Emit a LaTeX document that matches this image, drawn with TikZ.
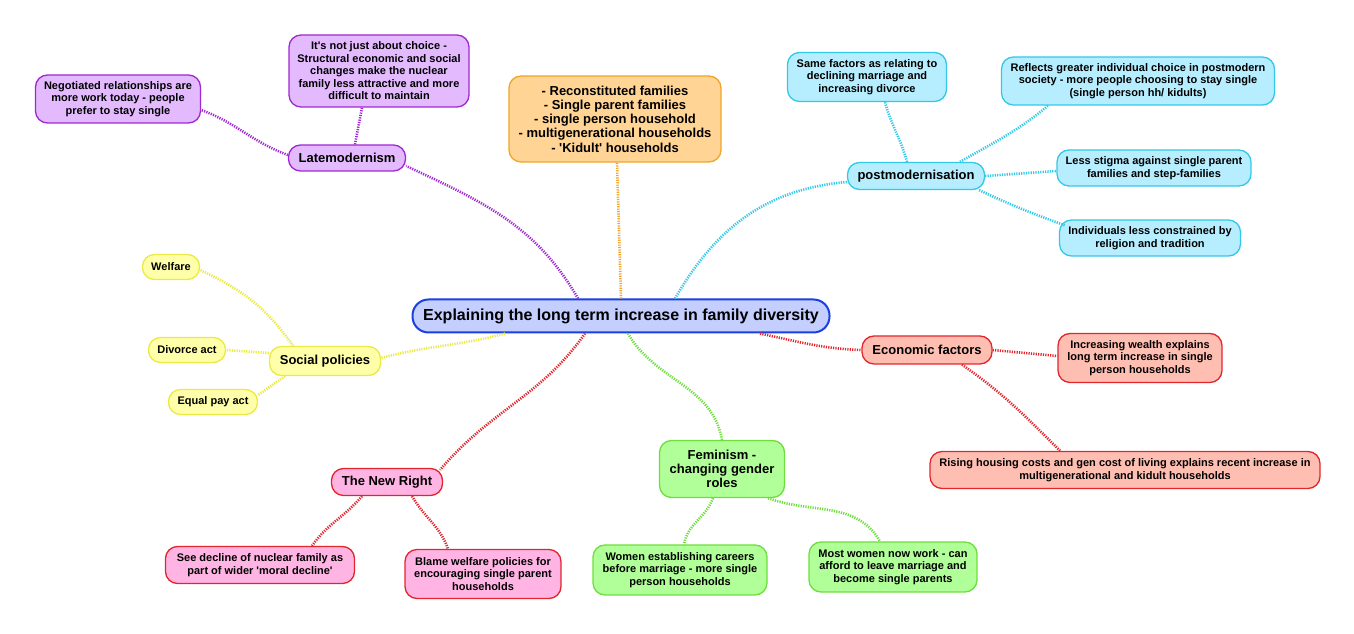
\documentclass[tikz,border=0pt]{standalone}
\usepackage{fontspec}
\setmainfont{Liberation Sans}
\definecolor{centrefill}{RGB}{196,206,255}
\definecolor{centreline}{RGB}{26,64,224}
\definecolor{violetfill}{RGB}{228,186,255}
\definecolor{violetline}{RGB}{160,40,210}
\definecolor{orangefill}{RGB}{255,212,148}
\definecolor{orangeline}{RGB}{240,165,40}
\definecolor{cyanfill}{RGB}{182,238,255}
\definecolor{cyanline}{RGB}{50,200,232}
\definecolor{redfill}{RGB}{255,190,178}
\definecolor{redline}{RGB}{226,38,44}
\definecolor{pinkfill}{RGB}{255,180,228}
\definecolor{greenfill}{RGB}{176,255,152}
\definecolor{greenline}{RGB}{110,222,60}
\definecolor{yellowfill}{RGB}{255,255,170}
\definecolor{yellowline}{RGB}{234,234,70}

\begin{document}
\begin{tikzpicture}[x=1pt, y=1pt, thick,
	box/.style={draw, rounded corners=12pt, align=center, inner sep=0pt, line width=1.3pt, font=\bfseries\fontsize{11}{12.5}\selectfont},
	main node/.style={box, rounded corners=16pt, line width=2pt, fill=centrefill, draw=centreline, font=\bfseries\fontsize{16}{18}\selectfont},
	branch node/.style={box, font=\bfseries\fontsize{13}{14.3}\selectfont},
	violet box/.style={fill=violetfill, draw=violetline},
	orange box/.style={fill=orangefill, draw=orangeline},
	cyan box/.style={fill=cyanfill, draw=cyanline},
	red box/.style={fill=redfill, draw=redline},
	pink box/.style={fill=pinkfill, draw=redline},
	green box/.style={fill=greenfill, draw=greenline},
	yellow box/.style={fill=yellowfill, draw=yellowline},
	link/.style={line width=2.6pt, dash pattern=on 1.2pt off 1.2pt},
	violet link/.style={link, draw=violetline},
	orange link/.style={link, draw=orangeline},
	cyan link/.style={link, draw=cyanline},
	red link/.style={link, draw=redline},
	green link/.style={link, draw=greenline},
	yellow link/.style={link, draw=yellowline}]
	\useasboundingbox (0,0) rectangle (1354,634);

	% centre
	\node[main node, minimum width=417pt, minimum height=33pt] (C) at (621,318) {Explaining the long term increase in family diversity};

	% late modernism
	\node[branch node, violet box, minimum width=117pt, minimum height=26pt] (LM) at (347,476) {Latemodernism};
	\node[box, violet box, minimum width=165pt, minimum height=48pt] (NEG) at (118,535) {Negotiated relationships are\\more work today - people\\prefer to stay single};
	\node[box, violet box, minimum width=180pt, minimum height=72pt] (CHO) at (379,563) {It\textquotesingle s not just about choice -\\Structural economic and social\\changes make the nuclear\\family less attractive and more\\difficult to maintain};

	% types
	\node[branch node, orange box, minimum width=212pt, minimum height=86pt] (TYP) at (615,515) {- Reconstituted families\\- Single parent families\\- single person household\\- multigenerational households\\- \textquotesingle Kidult\textquotesingle{} households};

	% postmodernisation
	\node[branch node, cyan box, minimum width=137pt, minimum height=27pt] (PM) at (916,458) {postmodernisation};
	\node[box, cyan box, minimum width=159pt, minimum height=49pt] (SAME) at (867,557) {Same factors as relating to\\declining marriage and\\increasing divorce};
	\node[box, cyan box, minimum width=273pt, minimum height=48pt] (REF) at (1138,553) {Reflects greater individual choice in postmodern\\society - more people choosing to stay single\\(single person hh/ kidults)};
	\node[box, cyan box, minimum width=194pt, minimum height=36pt] (STIG) at (1154,466) {Less stigma against single parent\\families and step-families};
	\node[box, cyan box, minimum width=181pt, minimum height=36pt] (IND) at (1150,396) {Individuals less constrained by\\religion and tradition};

	% economic factors
	\node[branch node, red box, minimum width=130pt, minimum height=28pt] (ECO) at (927,284) {Economic factors};
	\node[box, red box, minimum width=164pt, minimum height=49pt] (WEA) at (1140,276) {Increasing wealth explains\\long term increase in single\\person households};
	\node[box, red box, minimum width=390pt, minimum height=37pt] (RIS) at (1125,164) {Rising housing costs and gen cost of living explains recent increase in\\multigenerational and kidult households};

	% feminism
	\node[branch node, green box, minimum width=125pt, minimum height=57pt] (FEM) at (722,165) {Feminism -\\changing gender\\roles};
	\node[box, green box, minimum width=174pt, minimum height=50pt] (WOM) at (680,64) {Women establishing careers\\before marriage - more single\\person households};
	\node[box, green box, minimum width=168pt, minimum height=50pt] (WORK) at (893,67) {Most women now work - can\\afford to leave marriage and\\become single parents};

	% new right
	\node[branch node, pink box, minimum width=111pt, minimum height=27pt] (NR) at (387,152) {The New Right};
	\node[box, pink box, minimum width=189pt, minimum height=37pt] (SEE) at (260,69) {See decline of nuclear family as\\part of wider \textquotesingle moral decline\textquotesingle};
	\node[box, pink box, minimum width=156pt, minimum height=49pt] (BLA) at (483,60) {Blame welfare policies for\\encouraging single parent\\households};

	% social policies
	\node[branch node, yellow box, minimum width=111pt, minimum height=29pt] (SP) at (325,273) {Social policies};
	\node[box, yellow box, minimum width=57pt, minimum height=25pt] (WEL) at (171,367) {Welfare};
	\node[box, yellow box, minimum width=77pt, minimum height=25pt] (DIV) at (187,284) {Divorce act};
	\node[box, yellow box, minimum width=89pt, minimum height=25pt] (EQ) at (213,232) {Equal pay act};

	\path
		([xshift=-43pt]C.north) edge[violet link, out=120, in=-25] ([yshift=-8pt]LM.east)
		([yshift=3pt]LM.west) edge[violet link, out=160, in=-20] ([yshift=-11pt]NEG.east)
		([xshift=8pt]LM.north) edge[violet link] ([xshift=-17pt]CHO.south)
		(C.north) edge[orange link] ([xshift=2pt]TYP.south)
		([xshift=54pt]C.north) edge[cyan link, out=60, in=185] ([yshift=-6pt]PM.west)
		([xshift=-9pt]PM.north) edge[cyan link, out=105, in=-75] ([xshift=18pt]SAME.south)
		([xshift=44pt]PM.north) edge[cyan link, out=30, in=-140] ([xshift=-90pt]REF.south)
		(PM.east) edge[cyan link] ([yshift=-3pt]STIG.west)
		([xshift=-6pt]PM.south east) edge[cyan link, out=-25, in=160] ([xshift=6pt,yshift=-6pt]IND.north west)
		([xshift=139pt]C.south) edge[red link, out=-12, in=178] (ECO.west)
		(ECO.east) edge[red link] ([yshift=2pt]WEA.west)
		([xshift=35pt]ECO.south) edge[red link, out=-35, in=135] ([xshift=-65pt]RIS.north)
		([xshift=7pt]C.south) edge[green link, out=-60, in=100] (FEM.north)
		([xshift=-9pt]FEM.south) edge[green link, out=-110, in=80] ([xshift=4pt]WOM.north)
		([xshift=46pt]FEM.south) edge[green link, out=-20, in=120] ([xshift=-13pt]WORK.north)
		([xshift=-36pt]C.south) edge[red link, out=-125, in=50] ([xshift=-3pt,yshift=-2pt]NR.north east)
		([xshift=-25pt]NR.south) edge[red link, out=-130, in=55] ([xshift=52pt]SEE.north)
		([xshift=25pt]NR.south) edge[red link, out=-60, in=110] ([xshift=-35pt]BLA.north)
		([xshift=-116pt]C.south) edge[yellow link, out=195, in=15] ([yshift=3pt]SP.east)
		([xshift=-32pt]SP.north) edge[yellow link, out=125, in=-25] ([yshift=-3pt]WEL.east)
		([yshift=8pt]SP.west) edge[yellow link] (DIV.east)
		([xshift=-40pt]SP.south) edge[yellow link] ([yshift=7pt]EQ.east);
\end{tikzpicture}
\end{document}
